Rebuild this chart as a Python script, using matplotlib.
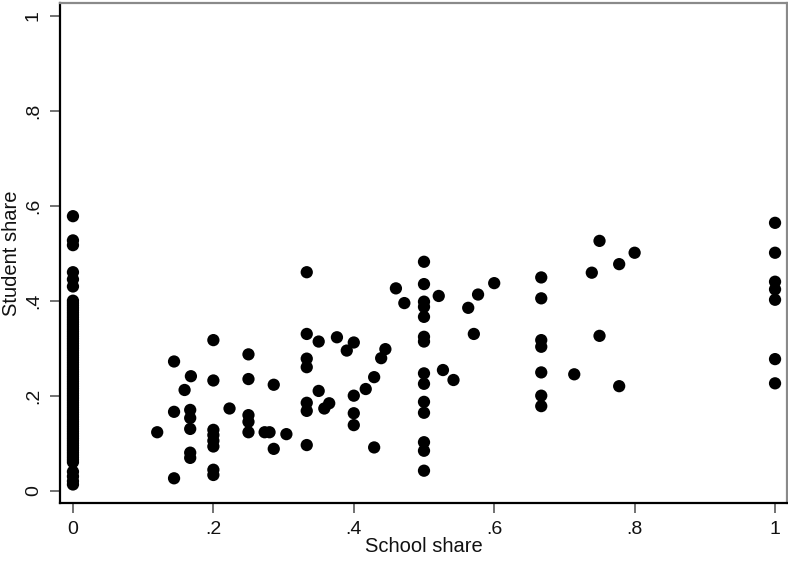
import numpy as np
import matplotlib.pyplot as plt

plt.rcParams['font.family'] = ['Liberation Sans', 'DejaVu Sans']

# schools with no share: dense column at x = 0
zero_student = [ 0.578, 0.527, 0.517, 0.460, 0.445, 0.430,
                 0.400, 0.395, 0.390, 0.385, 0.380, 0.375, 0.370, 0.365,
                 0.360, 0.355, 0.350, 0.345, 0.340, 0.335, 0.330, 0.325,
                 0.320, 0.315, 0.310, 0.305, 0.300, 0.295, 0.290, 0.285,
                 0.280, 0.275, 0.270, 0.265, 0.260, 0.255, 0.250, 0.245,
                 0.240, 0.235, 0.230, 0.225, 0.220, 0.215, 0.210, 0.205,
                 0.200, 0.195, 0.190, 0.185, 0.180, 0.175, 0.170, 0.165,
                 0.160, 0.155, 0.150, 0.145, 0.140, 0.135, 0.130, 0.125,
                 0.120, 0.115, 0.110, 0.105, 0.100, 0.095, 0.090, 0.085,
                 0.080, 0.075, 0.070, 0.065, 0.060, 0.040, 0.030, 0.020,
                 0.013 ]

# remaining schools
school  = [ 0.120, 0.144, 0.144, 0.144, 0.168, 0.159, 0.167, 0.167,
            0.167, 0.167, 0.167,
            0.200, 0.200, 0.200, 0.200, 0.200, 0.200, 0.200, 0.200,
            0.223, 0.250, 0.250, 0.250, 0.250, 0.250, 0.273, 0.280,
            0.286, 0.286, 0.304,
            0.333, 0.333, 0.333, 0.333, 0.333, 0.333, 0.333,
            0.350, 0.350, 0.358, 0.365, 0.376, 0.390, 0.400, 0.400,
            0.400, 0.400, 0.417, 0.429, 0.429, 0.439, 0.445, 0.460,
            0.472,
            0.500, 0.500, 0.500, 0.500, 0.500, 0.500, 0.500, 0.500,
            0.500, 0.500, 0.500, 0.500, 0.500, 0.500,
            0.521, 0.527, 0.542, 0.563, 0.571, 0.577, 0.600,
            0.667, 0.667, 0.667, 0.667, 0.667, 0.667, 0.667,
            0.714, 0.739, 0.750, 0.750, 0.778, 0.778, 0.800,
            1.0, 1.0, 1.0, 1.0, 1.0, 1.0, 1.0 ]
student = [ 0.123, 0.272, 0.166, 0.026, 0.241, 0.212, 0.170, 0.153,
            0.130, 0.080, 0.069,
            0.317, 0.232, 0.128, 0.117, 0.105, 0.093, 0.044, 0.033,
            0.173, 0.287, 0.235, 0.159, 0.145, 0.123, 0.123, 0.123,
            0.223, 0.088, 0.119,
            0.460, 0.330, 0.278, 0.260, 0.185, 0.168, 0.096,
            0.314, 0.210, 0.173, 0.184, 0.323, 0.295, 0.312, 0.200,
            0.163, 0.138, 0.214, 0.239, 0.091, 0.279, 0.298, 0.426,
            0.395,
            0.482, 0.435, 0.398, 0.387, 0.366, 0.324, 0.314, 0.247,
            0.225, 0.187, 0.164, 0.102, 0.084, 0.042,
            0.410, 0.254, 0.233, 0.385, 0.330, 0.413, 0.437,
            0.449, 0.405, 0.317, 0.303, 0.249, 0.200, 0.178,
            0.245, 0.459, 0.526, 0.326, 0.477, 0.220, 0.501,
            0.564, 0.501, 0.440, 0.424, 0.402, 0.277, 0.226 ]

ticks = [ 0, 0.2, 0.4, 0.6, 0.8, 1 ]
tick_labels = [ '0', '.2', '.4', '.6', '.8', '1' ]

fig = plt.figure( figsize = ( 7.88, 5.62 ), dpi = 100 )
ax = fig.add_axes( [ 0.0761, 0.105, 0.9226, 0.8897 ] )

ax.scatter( np.zeros( len( zero_student ) ), zero_student, s = 78, c = 'black',
            edgecolors = 'none', zorder = 3 )
ax.scatter( school, student, s = 78, c = 'black', edgecolors = 'none', zorder = 3 )

ax.set_xlim( -0.0185, 1.017 )
ax.set_ylim( -0.026, 1.027 )

ax.set_xticks( ticks )
ax.set_xticklabels( tick_labels )
ax.set_yticks( ticks )
ax.set_yticklabels( tick_labels, rotation = 90, va = 'center' )

ax.tick_params( direction = 'out', length = 7, width = 1.3, color = '#666666',
                labelsize = 14, labelcolor = '#111111', pad = 6 )

for side in [ 'left', 'bottom' ]:
    ax.spines[side].set_color( 'black' )
    ax.spines[side].set_linewidth( 1.6 )
for side in [ 'top', 'right' ]:
    ax.spines[side].set_color( '#8a8a8a' )
    ax.spines[side].set_linewidth( 1.6 )

ax.set_xlabel( 'School share', fontsize = 14.5, color = '#111111', labelpad = -1 )
ax.set_ylabel( 'Student share', fontsize = 14.5, color = '#111111' )
ax.yaxis.set_label_coords( -0.053, 0.5 )

plt.savefig( 'out.png', dpi = 100 )
plt.close()
